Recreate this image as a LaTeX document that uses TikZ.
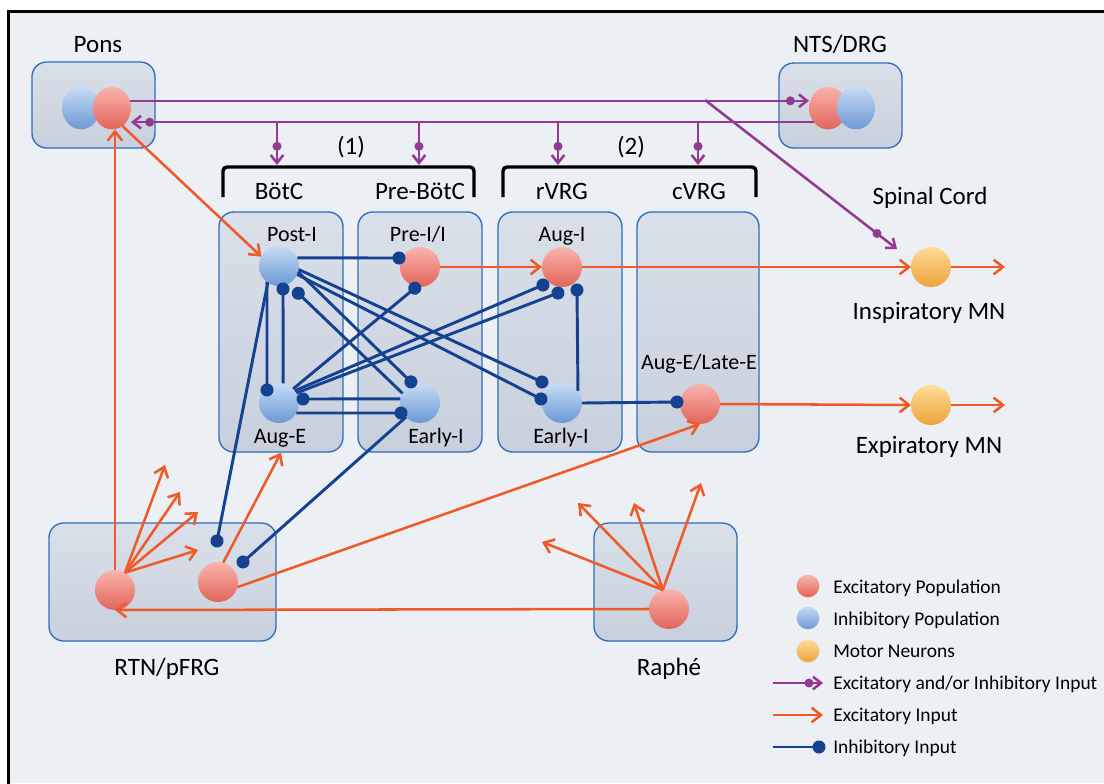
\documentclass[tikz,border=0pt]{standalone}
\usepackage{fontspec}
\setmainfont{Carlito}
\usetikzlibrary{arrows.meta,calc,fit,decorations.markings,shapes.geometric}
\definecolor{bgC}{RGB}{236,239,243}
\definecolor{boxTop}{RGB}{218,224,233}
\definecolor{boxBot}{RGB}{200,208,221}
\definecolor{boxLine}{RGB}{47,110,186}
\definecolor{excC}{RGB}{240,90,40}
\definecolor{inhC}{RGB}{20,66,145}
\definecolor{mixC}{RGB}{146,57,146}
\definecolor{redTop}{RGB}{250,180,174}
\definecolor{redBot}{RGB}{226,100,90}
\definecolor{bluTop}{RGB}{198,220,246}
\definecolor{bluBot}{RGB}{108,152,212}
\definecolor{orgTop}{RGB}{255,220,152}
\definecolor{orgBot}{RGB}{238,162,58}
\begin{document}
\begin{tikzpicture}[x=0.75pt,y=-0.75pt,
  box/.style={rounded corners=11pt, draw=boxLine, line width=1pt, top color=boxTop, bottom color=boxBot, inner sep=0pt},
  nbase/.style={circle, minimum size=30pt, inner sep=0pt, outer sep=0pt},
  nred/.style={nbase, top color=redTop, bottom color=redBot},
  nblue/.style={nbase, top color=bluTop, bottom color=bluBot},
  norg/.style={nbase, top color=orgTop, bottom color=orgBot},
  pair/.style={ellipse, minimum width=28.5pt, minimum height=32pt},
  lgc/.style={minimum size=17pt},
  big/.style={font=\fontsize{18.75}{22}\selectfont, anchor=base, inner sep=0pt},
  small/.style={font=\fontsize{16.5}{20}\selectfont, anchor=base, inner sep=0pt},
  leg/.style={font=\fontsize{14.6}{18}\selectfont, anchor=base west, inner sep=0pt},
  exc/.style={draw=excC, line width=1.9pt, -{Straight Barb[length=7pt,width=11pt]}},
  inh/.style={draw=inhC, line width=2.2pt, postaction=decorate,
    decoration={markings, mark=at position 0.9999 with {\fill[inhC] (0,0) circle (4.9pt);}}},
  mix/.style={draw=mixC, line width=1.9pt, -{Straight Barb[length=6pt,width=9.5pt]}, postaction=decorate,
    decoration={markings, mark=at position -#1 with {\fill[mixC] (0,0) circle (3.4pt);}}},
  mix/.default=14pt,
  brk/.style={draw=black, line width=2.6pt, rounded corners=3pt}
]
\useasboundingbox (0,0) rectangle (1104,783);
\fill[white] (0,0) rectangle (1104,783);
\fill[bgC] (8.5,11.5) rectangle (1104,783);
\draw[line width=2.2pt] (8.5,790) -- (8.5,11.5) -- (1110,11.5);

% boxes
\node[box, fit={(32,62) (155,148)}] (ponsBox) {};
\node[box, fit={(779,63) (902,148)}] (ntsBox) {};
\node[box, fit={(219,212) (343,452)}] (botBox) {};
\node[box, fit={(358,212) (482,452)}] (preBox) {};
\node[box, fit={(498,212) (622,452)}] (rvrgBox) {};
\node[box, fit={(637,212) (759,452)}] (cvrgBox) {};
\node[box, fit={(49,523) (276,641)}] (rtnBox) {};
\node[box, fit={(594,523) (737,641)}] (rapheBox) {};

% neurons
\node[nblue, pair] (ponsB) at (81,108) {};
\node[nred, pair] (ponsR) at (112,108) {};
\node[nred, pair] (ntsR) at (828,108) {};
\node[nblue, pair] (ntsB) at (856,108) {};
\node[nblue] (postI) at (279,266) {};
\node[nred] (preI) at (420,267) {};
\node[nblue] (augE) at (279,403) {};
\node[nblue] (earlyIa) at (420,403) {};
\node[nred] (augI) at (562,267) {};
\node[nblue] (earlyIb) at (562,403) {};
\node[nred] (augEL) at (700,404) {};
\node[norg] (inspMN) at (931,267) {};
\node[norg] (expMN) at (931,405) {};
\node[nred] (rtn) at (115,590) {};
\node[nred] (pfrg) at (218,582) {};
\node[nred] (raphe) at (669,609) {};

% labels
\node[big] (tPons) at (98,52) {Pons};
\node[big] (tNts) at (840,52) {NTS/DRG};
\node[big] (tOne) at (351,154) {(1)};
\node[big] (tTwo) at (631,154) {(2)};
\node[big] (tBot) at (279,199) {BötC};
\node[big] (tPre) at (420,199) {Pre-BötC};
\node[big] (tRvrg) at (562,199) {rVRG};
\node[big] (tCvrg) at (699,199) {cVRG};
\node[big] (tSpinal) at (930,204) {Spinal Cord};
\node[big] (tInsp) at (929,319) {Inspiratory MN};
\node[big] (tExp) at (929,453) {Expiratory MN};
\node[big] (tRtn) at (167,675) {RTN/pFRG};
\node[big] (tRaphe) at (669,675) {Raphé};
\node[small] (tPostI) at (292,241) {Post-I};
\node[small] (tPreI) at (418,241) {Pre-I/I};
\node[small] (tAugE) at (280,443) {Aug-E};
\node[small] (tEarlyIa) at (436,443) {Early-I};
\node[small] (tAugI) at (562,241) {Aug-I};
\node[small] (tEarlyIb) at (561,443) {Early-I};
\node[small] (tAugEL) at (699,369) {Aug-E/Late-E};

% brackets
\draw[brk] (223,197) -- (223,167) -- (474,167) -- (474,197);
\draw[brk] (503,197) -- (503,167) -- (756,167) -- (756,197);

% purple (excitatory and/or inhibitory)
\draw[mix] (ponsR.22) -- (ponsR.22 -| ntsR.west);
\draw[mix] (ntsR.225) -- (ntsR.225 -| ponsR.east);
\coordinate (dA) at (277,121); \coordinate (eA) at (277,165);
\coordinate (dB) at (419,121); \coordinate (eB) at (419,165);
\coordinate (dC) at (558,121); \coordinate (eC) at (558,165);
\coordinate (dD) at (698,121); \coordinate (eD) at (698,165);
\draw[mix] (dA) -- (eA);
\draw[mix] (dB) -- (eB);
\draw[mix] (dC) -- (eC);
\draw[mix] (dD) -- (eD);
\coordinate (sA) at (705,100);
\coordinate (sB) at (897,249);
\draw[mix=19pt] (sA) -- (sB);

% excitatory
\draw[exc] (ponsR.-60) -- (postI.152);
\draw[exc] (rtn.north) -- (rtn.north |- ponsR.south);
\draw[exc] (preI.east) -- (augI.west);
\draw[exc] (augI.east) -- (inspMN.west);
\coordinate (outI) at (1005,267);
\draw[exc] (inspMN.east) -- (outI);
\draw[exc] (augEL.east) -- (expMN.west);
\coordinate (outE) at (1005,405);
\draw[exc] (expMN.east) -- (outE);
\draw[exc] (pfrg.75) -- (botBox.south);
\draw[exc] (pfrg.-15) -- (augEL.south);
\coordinate (fA) at (165,465);
\coordinate (fB) at (180,492);
\coordinate (fC) at (198,512);
\coordinate (fD) at (198,550);
\draw[exc] (rtn.60) -- (fA);
\draw[exc] (rtn.60) -- (fB);
\draw[exc] (rtn.60) -- (fC);
\draw[exc] (rtn.60) -- (fD);
\coordinate (rA) at (542,542);
\coordinate (rB) at (578,503);
\coordinate (rC) at (634,503);
\coordinate (rD) at (701,483);
\draw[exc] (raphe.108) -- (rA);
\draw[exc] (raphe.108) -- (rB);
\draw[exc] (raphe.108) -- (rC);
\draw[exc] (raphe.108) -- (rD);
\draw[exc] (raphe.west) -- (rtn.south);

% inhibitory
\draw[inh] (postI.24) -- ($(preI)+(-21,-9)$);
\draw[inh] (augE.45) -- ($(preI)+(-5,21)$);
\draw[inh] (augE.78) -- ($(postI)+(4,23)$);
\draw[inh] (earlyIa.151) -- ($(postI)+(19,27)$);
\draw[inh] (postI.233) -- ($(augE)+(-12,-13)$);
\draw[inh] (earlyIa.168) -- ($(augE)+(24,-4)$);
\draw[inh] (augE.-30) -- ($(earlyIa)+(-19,10)$);
\draw[inh] (postI.-17) -- ($(earlyIa)+(-9,-21)$);
\draw[inh] (postI.-10) -- ($(earlyIb)+(-20,-21)$);
\draw[inh] (postI.-25) -- ($(earlyIb)+(-21,-4)$);
\draw[inh] (augE.38) -- ($(augI)+(-19,18)$);
\draw[inh] (augE.30) -- ($(augI)+(-4,26)$);
\draw[inh] (earlyIb.37) -- ($(augI)+(15,23)$);
\draw[inh] (earlyIb.east) -- ($(augEL)+(-23,-2)$);
\draw[inh] (postI.236) -- ($(pfrg)+(-1,-41)$);
\draw[inh] (earlyIa.225) -- ($(pfrg)+(25,-20)$);

% legend
\node[nred, lgc] (lgR) at (808,586) {};
\node[nblue, lgc] (lgB) at (808,618) {};
\node[norg, lgc] (lgO) at (808,651) {};
\node[leg] (lgT1) at (833,593) {Excitatory Population};
\node[leg] (lgT2) at (833,625) {Inhibitory Population};
\node[leg] (lgT3) at (833,657) {Motor Neurons};
\node[leg] (lgT4) at (833,689) {Excitatory and/or Inhibitory Input};
\node[leg] (lgT5) at (833,721) {Excitatory Input};
\node[leg] (lgT6) at (833,753) {Inhibitory Input};
\coordinate (lgM1) at (773,683); \coordinate (lgM2) at (823,683);
\coordinate (lgE1) at (773,715); \coordinate (lgE2) at (823,715);
\coordinate (lgI1) at (773,747); \coordinate (lgI2) at (819,747);
\draw[mix=10.5pt] (lgM1) -- (lgM2);
\draw[exc] (lgE1) -- (lgE2);
\draw[inh] (lgI1) -- (lgI2);
\end{tikzpicture}
\end{document}
